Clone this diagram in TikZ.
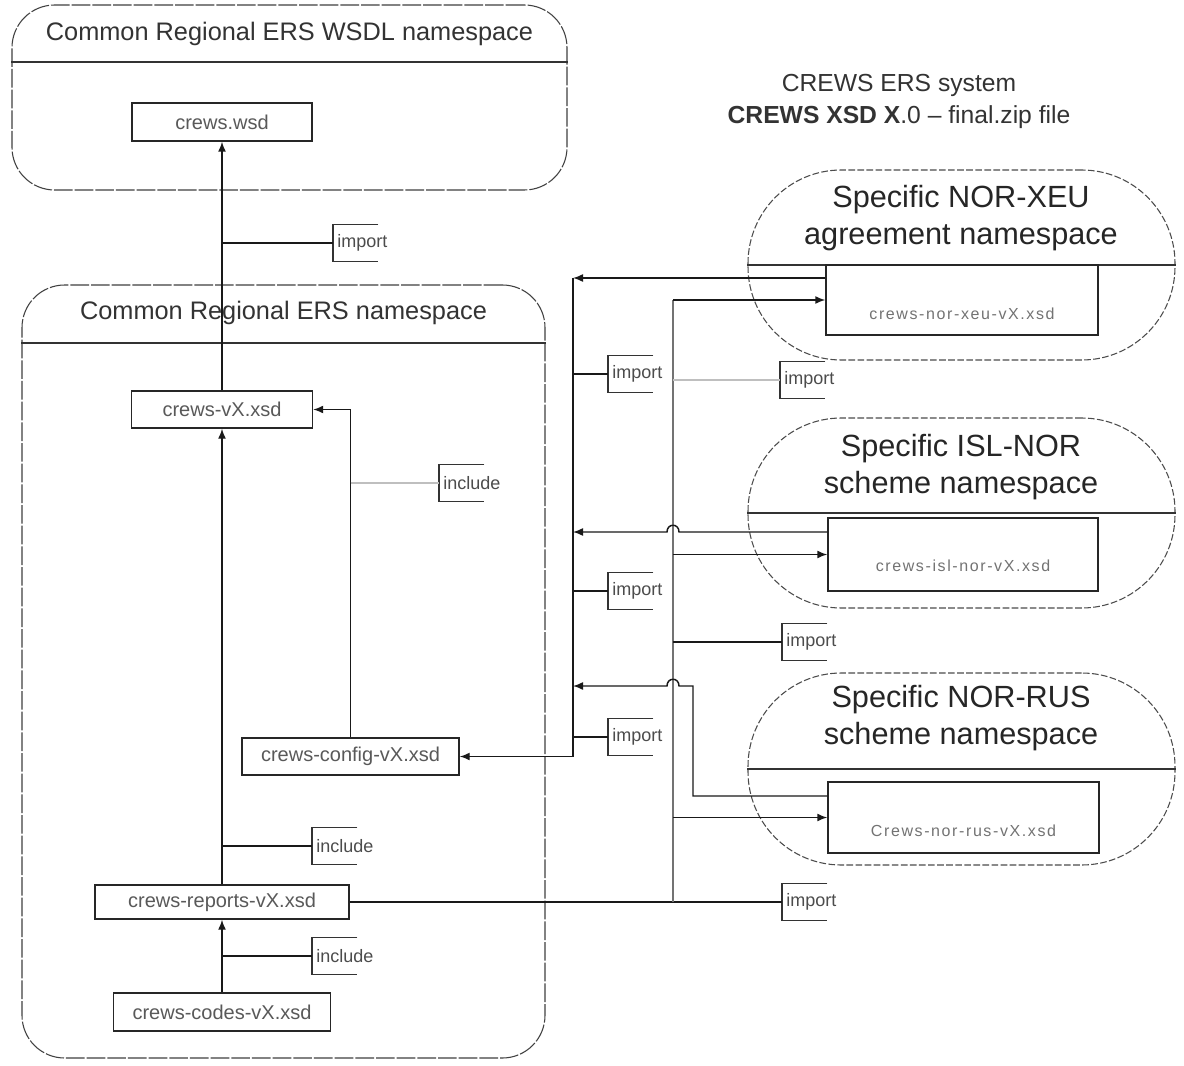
\documentclass[tikz,border=0pt]{standalone}
\usepackage{fontspec}
\setmainfont{Liberation Sans}
\newfontfamily\spacedfont[LetterSpace=10]{Liberation Sans}
\usetikzlibrary{arrows.meta,calc}
\begin{document}
\begin{tikzpicture}[x=0.75pt,y=-0.75pt,
  every node/.style={inner sep=0pt},
  cont/.style={draw=black!75, line width=0.8pt, dash pattern=on 14pt off 1.5pt, rounded corners=32pt},
  stad/.style={draw=black!70, line width=0.8pt, dash pattern=on 5pt off 1.8pt, rounded corners=70pt, minimum width=320.25pt, minimum height=142.5pt},
  hdr/.style={draw=black!80, line width=0.9pt},
  ctitle/.style={font=\fontsize{19}{22}\selectfont, text=black!80},
  stitle/.style={font=\fontsize{23}{27.75}\selectfont, text=black!85, align=center},
  file/.style={draw=black!85, line width=1.1pt, fill=white, font=\fontsize{15}{18}\selectfont, text=black!65},
  sfile/.style={draw=black!85, line width=1.1pt, fill=white},
  sfiletxt/.style={font=\spacedfont\fontsize{12}{14}\selectfont, text=black!55},
  conn/.style={draw=black!90, line width=1.1pt},
  faint/.style={draw=black!25, line width=1.4pt},
  busv/.style={draw=black!55, line width=0.8pt},
  arr/.style={-{Latex[length=7.5pt,width=6pt]}},
  note/.style={anchor=west, minimum height=27pt, inner xsep=3pt, font=\fontsize{13.5}{16}\selectfont, text=black!70},
  notebr/.style={draw=black!80, line width=0.9pt},
]
\fill[white] (0,0) rectangle (1184,1066);
\useasboundingbox (0,0) rectangle (1184,1066);

% containers
\node[cont, minimum width=416.25pt, minimum height=138.75pt] (wsdl) at (289.5,97.5) {};
\coordinate (wh) at (0,62);
\draw[hdr] (wsdl.west |- wh) -- (wsdl.east |- wh);
\node[ctitle] (wsdlt) at (289.5,34) {Common Regional ERS WSDL namespace};

\node[cont, minimum width=392.25pt, minimum height=579.75pt] (crs) at (283.5,671.5) {};
\coordinate (ch) at (0,343);
\draw[hdr] (crs.west |- ch) -- (crs.east |- ch);
\node[ctitle] (crst) at (283.5,313) {Common Regional ERS namespace};

% system title
\node[font=\fontsize{18.5}{24}\selectfont, text=black!80, align=center] (sys) at (899,101) {CREWS ERS system\\\textbf{CREWS XSD X}.0 -- final.zip file};

% stadiums
\node[stad] (sxeu) at (961.5,265) {};
\node[stad] (sisl) at (961.5,513) {};
\node[stad, minimum height=144pt] (srus) at (961.5,769) {};
\draw[hdr] (sxeu.west) -- (sxeu.east);
\draw[hdr] (sisl.west) -- (sisl.east);
\draw[hdr] (srus.west) -- (srus.east);
\node[stitle] (sxeut) at (961,218.5) {Specific NOR-XEU\\agreement namespace};
\node[stitle] (sislt) at (961,467) {Specific ISL-NOR\\scheme namespace};
\node[stitle] (srust) at (961,718.5) {Specific NOR-RUS\\scheme namespace};

% files
\node[file, minimum width=135pt, minimum height=28.5pt] (wsd) at (222,122) {crews.wsd};
\node[file, minimum width=135.75pt, minimum height=27.75pt] (vx) at (222,409.5) {crews-vX.xsd};
\node[file, minimum width=162.75pt, minimum height=27.75pt] (cfg) at (350.5,756.5) {crews-config-vX.xsd};
\node[file, minimum width=190.5pt, minimum height=25.5pt] (rep) at (222,902) {crews-reports-vX.xsd};
\node[file, minimum width=162.75pt, minimum height=28.5pt] (cod) at (222,1012) {crews-codes-vX.xsd};

\node[sfile, minimum width=204pt, minimum height=52.5pt] (xeu) at (962,300) {};
\node[sfiletxt] (xeut) at (962,314) {crews-nor-xeu-vX.xsd};
\node[sfile, minimum width=202.5pt, minimum height=54.75pt] (isl) at (963,554.5) {};
\node[sfiletxt] (islt) at (963,566) {crews-isl-nor-vX.xsd};
\node[sfile, minimum width=203.25pt, minimum height=53.25pt] (rus) at (963.5,817.5) {};
\node[sfiletxt] (rust) at (963.5,831) {Crews-nor-rus-vX.xsd};

% spine connectors
\draw[conn,arr] (vx.north) -- (wsd.south);
\draw[conn,arr] (rep.north) -- (vx.south);
\draw[conn,arr] (cod.north) -- (rep.south);
\draw[conn,arr] (cfg.north) |- (vx.east);

% notes
\node[note] (n1) at (333,243) {import};
\node[note] (n2) at (439,483) {include};
\node[note] (n3) at (312,846) {include};
\node[note] (n4) at (312,956) {include};
\node[note] (n5) at (608,374) {import};
\node[note] (n6) at (608,591) {import};
\node[note] (n7) at (608,737) {import};
\node[note] (n8) at (780,380) {import};
\node[note] (n9) at (782,642) {import};
\node[note] (n10) at (782,902) {import};
\foreach \n in {n1,n2,n3,n4,n5,n6,n7,n8,n9,n10}
  \draw[notebr] ([xshift=34pt]\n.north west) -- (\n.north west) -- (\n.south west) -- ([xshift=34pt]\n.south west);

\draw[conn] (vx.north |- n1.west) -- (n1.west);
\draw[faint] (cfg.north |- n2.west) -- (n2.west);
\draw[conn] (rep.north |- n3.west) -- (n3.west);
\draw[conn] (cod.north |- n4.west) -- (n4.west);

% import bus into config
\coordinate (b1) at (573,278);
\coordinate (b2) at (573,532);
\coordinate (b3) at (573,686);
\coordinate (b4) at (573,756.5);
\draw[conn] (b1) -- (b4);
\draw[conn,arr] (b4) -- (cfg.east);
\draw[conn] (b1 |- n5.west) -- (n5.west);
\draw[conn] (b1 |- n6.west) -- (n6.west);
\draw[conn] (b1 |- n7.west) -- (n7.west);

% reports bus to specific namespaces
\coordinate (r0) at (673,902);
\coordinate (r1) at (673,300);
\draw[conn] (rep.east) -- (n10.west);
\draw[busv] (r0) -- (r1);
\draw[conn,arr] (r1) -- (xeu.west);
\draw[conn,arr] (r1 |- isl.west) -- (isl.west);
\draw[conn,arr] (r1 |- rus.west) -- (rus.west);
\draw[faint] (r1 |- n8.west) -- (n8.west);
\draw[conn] (r1 |- n9.west) -- (n9.west);

% specific namespaces back to config
\draw[conn,arr] (xeu.west |- b1) -- (b1);
\draw[conn,arr] (isl.west |- b2) -- (679,532) .. controls (679,523) and (667,523) .. (667,532) -- (b2);
\draw[conn,arr] ([yshift=16.125pt]rus.west) -- (693,796) -- (693,686) -- (679,686) .. controls (679,677) and (667,677) .. (667,686) -- (b3);
\end{tikzpicture}
\end{document}
